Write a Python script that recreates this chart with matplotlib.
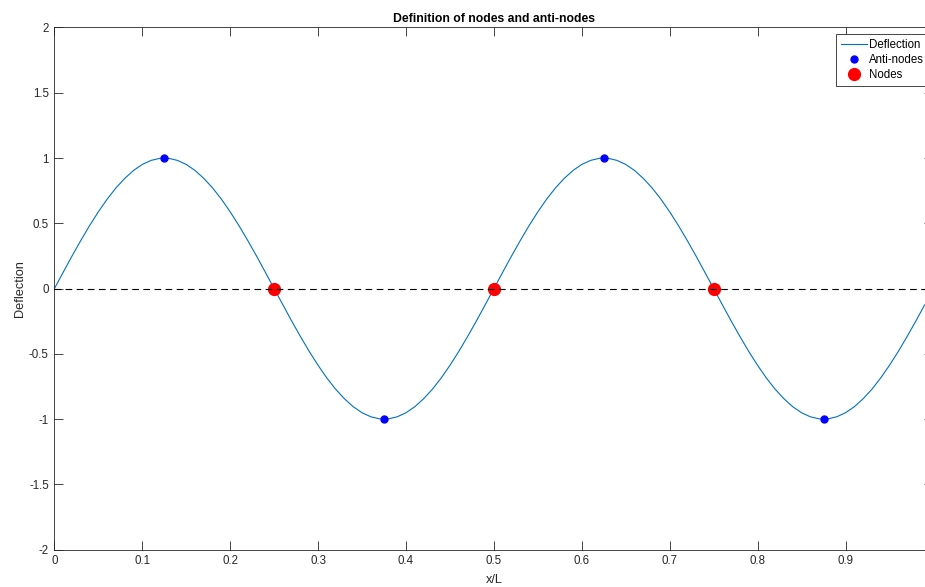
import numpy as np
import matplotlib
matplotlib.use('Agg')
import matplotlib.pyplot as plt

plt.rcParams['font.family'] = ['Liberation Sans', 'DejaVu Sans']
plt.rcParams['axes.unicode_minus'] = False

# curve sampled every 0.01 of x/L
x = np.arange(0, 1.0, 0.01)
deflection = [
    0.000, 0.125, 0.249, 0.368, 0.482, 0.588, 0.685, 0.771, 0.844, 0.905,
    0.951, 0.982, 0.998, 0.998, 0.982, 0.951, 0.905, 0.844, 0.771, 0.685,
    0.588, 0.482, 0.368, 0.249, 0.125, 0.000, -0.125, -0.249, -0.368, -0.482,
    -0.588, -0.685, -0.771, -0.844, -0.905, -0.951, -0.982, -0.998, -0.998, -0.982,
    -0.951, -0.905, -0.844, -0.771, -0.685, -0.588, -0.482, -0.368, -0.249, -0.125,
    0.000, 0.125, 0.249, 0.368, 0.482, 0.588, 0.685, 0.771, 0.844, 0.905,
    0.951, 0.982, 0.998, 0.998, 0.982, 0.951, 0.905, 0.844, 0.771, 0.685,
    0.588, 0.482, 0.368, 0.249, 0.125, 0.000, -0.125, -0.249, -0.368, -0.482,
    -0.588, -0.685, -0.771, -0.844, -0.905, -0.951, -0.982, -0.998, -0.998, -0.982,
    -0.951, -0.905, -0.844, -0.771, -0.685, -0.588, -0.482, -0.368, -0.249, -0.125,
]

antinode_x = [0.125, 0.375, 0.625, 0.875]
antinode_y = [1, -1, 1, -1]
node_x = [0.25, 0.5, 0.75]
node_y = [0, 0, 0]

axcol = '#262626'
fig = plt.figure(figsize=(9.25, 5.87), dpi=100)
ax = fig.add_axes([54.4 / 925, 37.3 / 587, 879 / 925, 522.2 / 587])

ax.plot(x, deflection, color='#0072BD', lw=0.8, label='Deflection', zorder=2)
ax.plot(antinode_x, antinode_y, 'o', color='#0000FF', ms=5, label='Anti-nodes', zorder=3)
ax.plot(node_x, node_y, 'o', color='#FF0000', ms=8.5, label='Nodes', zorder=3)
ax.axhline(0, color='black', ls=(0, (6, 4)), lw=0.8, zorder=4)

ax.set_xlim(0, 1)
ax.set_ylim(-2, 2)
ax.set_xticks(np.arange(0, 1.0, 0.1))
ax.set_xticklabels(['0', '0.1', '0.2', '0.3', '0.4', '0.5', '0.6', '0.7', '0.8', '0.9'])
ax.set_yticks(np.arange(-2, 2.01, 0.5))
ax.set_yticklabels(['-2', '-1.5', '-1', '-0.5', '0', '0.5', '1', '1.5', '2'])
ax.tick_params(direction='in', length=6.5, width=0.6, colors=axcol, labelsize=8.3,
               top=True, right=True, pad=4)
for s in ax.spines.values():
    s.set_color(axcol)
    s.set_linewidth(0.6)

ax.set_title('Definition of nodes and anti-nodes', fontsize=8.8, fontweight='bold', pad=4)
ax.set_xlabel('x/L', fontsize=9.2, color=axcol, labelpad=5)
ax.set_ylabel('Deflection', fontsize=9.2, color=axcol, labelpad=2)

leg = ax.legend(loc='upper right', bbox_to_anchor=(928 / 925, 1 - 34 / 587),
                bbox_transform=fig.transFigure, borderaxespad=0, fontsize=8.3,
                fancybox=False, framealpha=1, edgecolor=axcol, handlelength=2.25,
                handletextpad=0.15, labelspacing=0.28, borderpad=0.4)
leg.get_frame().set_linewidth(0.6)

fig.savefig('out.png', dpi=100)
